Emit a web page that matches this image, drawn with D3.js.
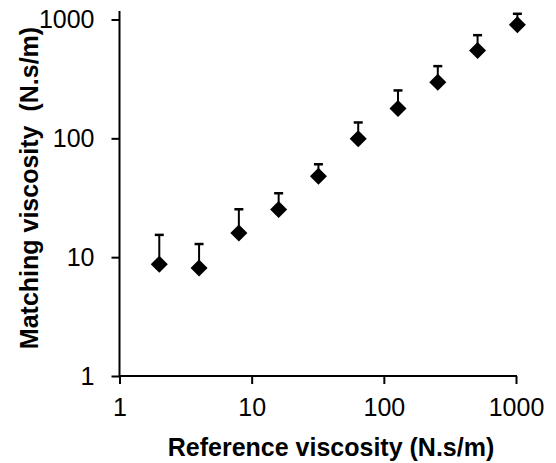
<!DOCTYPE html>
<html>
<head>
<meta charset="utf-8">
<script src="https://cdn.jsdelivr.net/npm/d3@7"></script>
<style>
  html, body { margin: 0; padding: 0; background: #fff; }
  svg { display: block; }
  text { font-family: "Liberation Sans", Arial, sans-serif; fill: #000; }
</style>
</head>
<body>
<svg id="chart" width="556" height="463"></svg>
<script>
const referenceViscosity = [2, 4, 8, 16, 32, 64, 128, 256, 512, 1024];
const matchingViscosity = [8.7, 8.1, 16.0, 25.2, 48, 99, 178, 297, 549, 902];
const errorUpper = [15.4, 12.9, 25.3, 34.5, 60.5, 136, 253, 405, 738, 1117];
const xTicks = [1, 10, 100, 1000];
const yTicks = [1, 10, 100, 1000];
const xTitle = "Reference viscosity (N.s/m)";
const yTitle = "Matching viscosity\u00a0\u00a0(N.s/m)";

const svg = d3.select("#chart");
const x = d3.scaleLog().domain([1, 1000]).range([119.5, 516]);
const y = d3.scaleLog().domain([1, 1000]).range([376, 19.5]);

const fmt = d => String(d);
const FONT = "Liberation Sans, Arial, sans-serif";

// Y axis
const gy = svg.append("g").attr("transform", `translate(${x(1)},0)`)
  .call(d3.axisLeft(y).tickValues(yTicks).tickFormat(fmt).tickSize(8).tickPadding(17));
gy.select(".domain").remove();
gy.append("line").attr("x1", 0).attr("x2", 0).attr("y1", y(1)).attr("y2", 11)
  .attr("stroke", "#000").attr("stroke-width", 2);
gy.selectAll(".tick line").attr("stroke", "#000").attr("stroke-width", 2);
gy.selectAll(".tick text").attr("font-size", 25).attr("font-family", FONT).attr("fill", "#000");

// X axis
const gx = svg.append("g").attr("transform", `translate(0,${y(1)})`)
  .call(d3.axisBottom(x).tickValues(xTicks).tickFormat(fmt).tickSize(8).tickPadding(14));
gx.select(".domain").remove();
gx.append("line").attr("x1", x(1)).attr("x2", x(1000) + 1).attr("y1", 0).attr("y2", 0)
  .attr("stroke", "#000").attr("stroke-width", 2);
gx.selectAll(".tick line").attr("stroke", "#000").attr("stroke-width", 2);
gx.selectAll(".tick text").attr("font-size", 25).attr("font-family", FONT).attr("fill", "#000");

// Error bars (upper only)
const data = referenceViscosity.map((r, i) => ({ r, m: matchingViscosity[i], e: errorUpper[i] }));
const eb = svg.append("g");
eb.selectAll("line.stem").data(data).join("line").attr("class", "stem")
  .attr("x1", d => x(d.r)).attr("x2", d => x(d.r))
  .attr("y1", d => y(d.m)).attr("y2", d => y(d.e))
  .attr("stroke", "#000").attr("stroke-width", 2);
eb.selectAll("line.cap").data(data).join("line").attr("class", "cap")
  .attr("x1", d => x(d.r) - 4.5).attr("x2", d => x(d.r) + 4.5)
  .attr("y1", d => y(d.e)).attr("y2", d => y(d.e))
  .attr("stroke", "#000").attr("stroke-width", 2.5);

// Diamond markers
svg.append("g").selectAll("path").data(data).join("path")
  .attr("d", d3.symbol().type(d3.symbolSquare).size(145))
  .attr("transform", d => `translate(${x(d.r)},${y(d.m)}) rotate(45)`)
  .attr("fill", "#000");

// Titles
svg.append("text")
  .attr("x", 331).attr("y", 456)
  .attr("text-anchor", "middle")
  .attr("font-size", 25).attr("font-weight", "bold")
  .text(xTitle);

svg.append("text")
  .attr("transform", "translate(38,188) rotate(-90)")
  .attr("text-anchor", "middle")
  .attr("font-size", 25).attr("font-weight", "bold")
  .text(yTitle);
</script>
</body>
</html>
